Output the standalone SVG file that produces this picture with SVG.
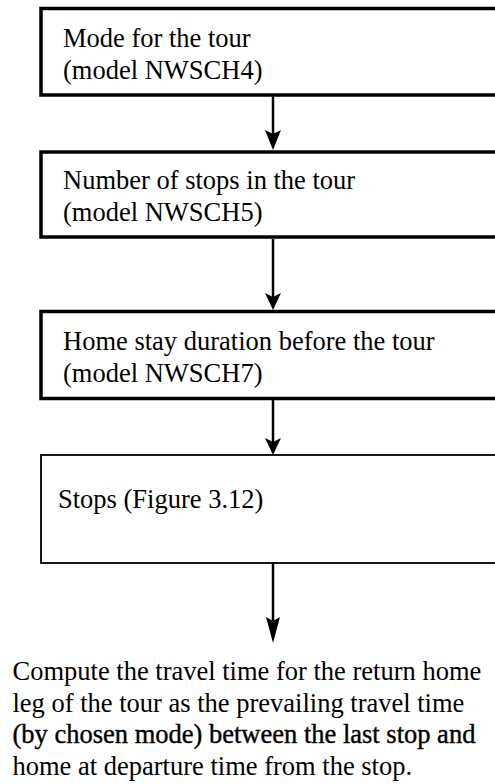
<svg xmlns="http://www.w3.org/2000/svg" width="495" height="784" viewBox="0 0 495 784">
<style>
.box{fill:#fff;stroke:#000;stroke-width:3.5}
.thin{stroke-width:1.8}
.t{font-family:"Liberation Serif","Times New Roman",serif;font-size:26.5px;fill:#000}
.c{stroke:#000;stroke-width:2.5;fill:none}
.h{fill:#000;stroke:none}
</style>
<rect width="495" height="784" fill="#fff"/>
<g id="connectors">
<line class="c" x1="273" y1="96" x2="273" y2="134"/>
<path class="h" d="M265,130 L273,134 L281,130 L273,150 Z"/>
<line class="c" x1="273" y1="239" x2="273" y2="297"/>
<path class="h" d="M265,293 L273,297 L281,293 L273,310 Z"/>
<line class="c" x1="273" y1="400" x2="273" y2="442"/>
<path class="h" d="M265,438 L273,442 L281,438 L273,455 Z"/>
<line class="c" x1="273" y1="563" x2="273" y2="621"/>
<path class="h" d="M266,617 L273,621 L280,617 L273,643 Z"/>
</g>
<g id="node1">
<rect class="box" x="41" y="8.5" width="470" height="86.5"/>
<text class="t" x="63" y="46.5">Mode for the tour</text>
<text class="t" x="63" y="78.5">(model NWSCH4)</text>
</g>
<g id="node2">
<rect class="box" x="41" y="152" width="470" height="85"/>
<text class="t" x="63" y="188.5">Number of stops in the tour</text>
<text class="t" x="63" y="220.5">(model NWSCH5)</text>
</g>
<g id="node3">
<rect class="box" x="41" y="311.5" width="470" height="87"/>
<text class="t" x="63" y="349.5">Home stay duration before the tour</text>
<text class="t" x="63" y="381.5">(model NWSCH7)</text>
</g>
<g id="node4">
<rect class="box thin" x="41" y="455" width="470" height="108"/>
<text class="t" x="58" y="508">Stops (Figure 3.12)</text>
</g>
<g id="note">
<text class="t" x="12.5" y="680">Compute the travel time for the return home</text>
<text class="t" x="12.5" y="711.5">leg of the tour as the prevailing travel time</text>
<text class="t" x="12.5" y="743" stroke="#000" stroke-width="0.4">(by chosen mode) between the last stop and</text>
<text class="t" x="12.5" y="774.5">home at departure time from the stop.</text>
</g>
</svg>
